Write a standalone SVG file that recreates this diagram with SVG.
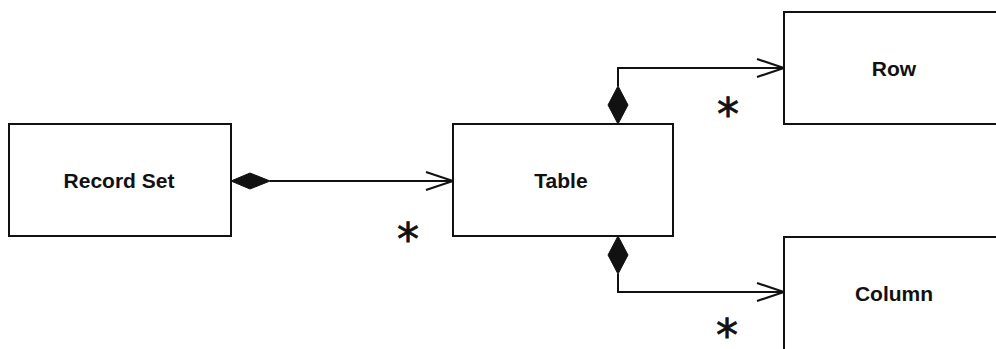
<svg xmlns="http://www.w3.org/2000/svg" width="996" height="349" viewBox="0 0 996 349">
<style>
.box{fill:#fff;stroke:#111;stroke-width:2}
.lbl{font-family:"Liberation Sans",Arial,sans-serif;font-weight:bold;font-size:21px;fill:#111;text-anchor:middle}
.ln{fill:none;stroke:#111;stroke-width:2}
.dia{fill:#111;stroke:#111;stroke-width:1}
.mult{font-family:"DejaVu Sans",sans-serif;font-size:44px;fill:#111;stroke:#111;stroke-width:0.8;text-anchor:middle}
</style>
<rect width="996" height="349" fill="#fff"/>
<g id="connectors">
  <path class="ln" d="M270,181 H453 M426,172 L453,181 L426,190"/>
  <path class="dia" d="M231,181 L250,173 L270,181 L250,189 Z"/>
  <path class="ln" d="M618,86 V68 H784 M757,59 L784,68 L757,77"/>
  <path class="dia" d="M618,124 L608,105 L618,86 L628,105 Z"/>
  <path class="ln" d="M618,274 V292 H784 M757,283 L784,292 L757,301"/>
  <path class="dia" d="M618,236 L608,255 L618,274 L628,255 Z"/>
  <text class="mult" x="408" y="255">*</text>
  <text class="mult" x="728" y="130">*</text>
  <text class="mult" x="727" y="351">*</text>
</g>
<g id="recordset">
  <rect class="box" x="9" y="124" width="222" height="112"/>
  <text class="lbl" x="119" y="188">Record Set</text>
</g>
<g id="table">
  <rect class="box" x="453" y="124" width="220" height="112"/>
  <text class="lbl" x="561" y="188">Table</text>
</g>
<g id="row">
  <rect class="box" x="784" y="12" width="220" height="112"/>
  <text class="lbl" x="894" y="76">Row</text>
</g>
<g id="column">
  <rect class="box" x="784" y="237" width="220" height="120"/>
  <text class="lbl" x="894" y="301">Column</text>
</g>
</svg>
